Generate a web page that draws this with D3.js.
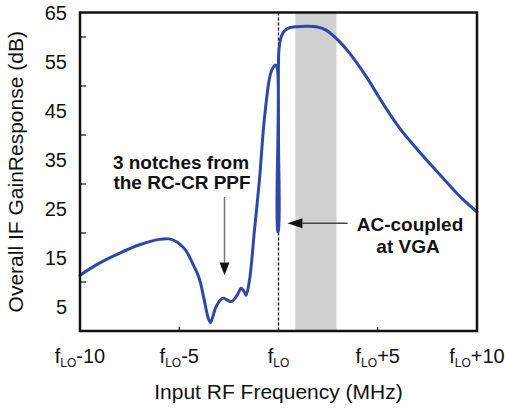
<!DOCTYPE html>
<html>
<head>
<meta charset="utf-8">
<script src="https://cdn.jsdelivr.net/npm/d3@7"></script>
<style>
html,body{margin:0;padding:0;background:#fff;}
svg{display:block;font-family:"Liberation Sans",Arial,Helvetica,sans-serif;}
</style>
</head>
<body>
<svg id="chart" width="505" height="411"></svg>
<script>
// ---- data ----
const freqOffset = [-10, -9, -8, -7, -6, -5.5, -5.1, -4.7, -4.35, -4.0, -3.75, -3.55, -3.43, -3.3, -3.14, -2.8, -2.38, -2.1, -1.88, -1.7, -1.63, -1.46, -1.21, -0.96, -0.7, -0.37, -0.15, -0.05, -0.04, -0.01, 0.0, 0.02, 0.1, 0.22, 0.45, 0.89, 1.4, 1.9, 2.4, 2.99, 3.58, 4.42, 5.25, 6.1, 6.94, 7.77, 8.6, 9.28, 10];
const gainDb     = [11.4, 13.9, 15.9, 17.6, 18.7, 18.8, 18.1, 16.6, 14.0, 10.8, 6.5, 2.8, 1.7, 3.0, 5.0, 6.7, 6.0, 7.2, 8.7, 7.8, 7.3, 10.4, 20.6, 30.8, 43.7, 52.9, 54.3, 53.3, 20.3, 20.3, 40.0, 57.3, 59.5, 60.8, 61.7, 62.1, 62.2, 62.1, 61.4, 59.4, 56.7, 51.9, 46.5, 41.4, 37.3, 33.5, 29.8, 26.9, 24.3];
const passBand = [0.85, 2.92];
const xTickValues = [-10, -5, 0, 5, 10];
const xTickSuffix = ["-10", "-5", "", "+5", "+10"];
const yLabelValues = [5, 15, 25, 35, 45, 55, 65];
const yTickValues = [10, 20, 30, 40, 50, 60];

// ---- layout ----
const svg = d3.select("#chart");
const x = d3.scaleLinear().domain([-10, 10]).range([80, 477]);
const y = d3.scaleLinear().domain([0, 65]).range([331, 12.5]);

const blue = "#2f48a6";

// gray passband
svg.append("rect")
  .attr("x", x(passBand[0])).attr("y", y(65))
  .attr("width", x(passBand[1]) - x(passBand[0]))
  .attr("height", y(0) - y(65))
  .attr("fill", "#cfd0d0");

// dashed fLO line
svg.append("line")
  .attr("x1", x(0)).attr("x2", x(0))
  .attr("y1", y(65)).attr("y2", y(0))
  .attr("stroke", "#111").attr("stroke-width", 1.3)
  .attr("stroke-dasharray", "3,2");

// curve
const pts = freqOffset.map((f, i) => [f, gainDb[i]]);
const line = d3.line()
  .x(d => x(d[0])).y(d => y(d[1]))
  .curve(d3.curveCatmullRom.alpha(0.5));
svg.append("path")
  .attr("d", line(pts))
  .attr("fill", "none")
  .attr("stroke", blue)
  .attr("stroke-width", 3)
  .attr("stroke-linejoin", "round")
  .attr("stroke-linecap", "round");

// left inward ticks
svg.append("g").selectAll("line").data(yTickValues).join("line")
  .attr("x1", x(-10)).attr("x2", x(-10) + 6)
  .attr("y1", d => y(d)).attr("y2", d => y(d))
  .attr("stroke", "#111").attr("stroke-width", 1.2);

// bottom inward ticks
svg.append("g").selectAll("line").data([-5, 5]).join("line")
  .attr("x1", d => x(d)).attr("x2", d => x(d))
  .attr("y1", y(0)).attr("y2", y(0) - 4)
  .attr("stroke", "#111").attr("stroke-width", 1.2);

// frame
svg.append("rect")
  .attr("x", x(-10)).attr("y", y(65))
  .attr("width", x(10) - x(-10)).attr("height", y(0) - y(65))
  .attr("fill", "none").attr("stroke", "#111").attr("stroke-width", 2.5);

// y tick labels
svg.append("g").selectAll("text").data(yLabelValues).join("text")
  .attr("x", 67).attr("y", d => y(d))
  .attr("dy", "0.36em")
  .attr("text-anchor", "end")
  .attr("font-size", 20)
  .attr("fill", "#111")
  .text(d => d);

// x tick labels  f_LO±n
const xl = svg.append("g").selectAll("text").data(xTickValues).join("text")
  .attr("x", d => x(d)).attr("y", 363)
  .attr("text-anchor", "middle")
  .attr("font-size", 20)
  .attr("fill", "#111");
xl.append("tspan").text("f");
xl.append("tspan").attr("font-size", 12).attr("dy", 4).text("LO");
xl.append("tspan").attr("dy", -4).text((d, i) => xTickSuffix[i]);

// axis titles
svg.append("text")
  .attr("x", (x(-10) + x(10)) / 2).attr("y", 399)
  .attr("text-anchor", "middle").attr("font-size", 21).attr("fill", "#111")
  .text("Input RF Frequency (MHz)");
svg.append("text")
  .attr("transform", `translate(23,${(y(0) + y(65)) / 2}) rotate(-90)`)
  .attr("text-anchor", "middle").attr("font-size", 21).attr("fill", "#111")
  .text("Overall IF GainResponse (dB)");

// annotation: notches
const ann1 = svg.append("text")
  .attr("text-anchor", "middle").attr("font-size", 19).attr("font-weight", "bold").attr("fill", "#111");
ann1.append("tspan").attr("x", 181).attr("y", 169).text("3 notches from");
ann1.append("tspan").attr("x", 182).attr("y", 189).text("the RC-CR PPF");

svg.append("line")
  .attr("x1", x(-2.72)).attr("x2", x(-2.72))
  .attr("y1", 197).attr("y2", y(14))
  .attr("stroke", "#777").attr("stroke-width", 1.5);
svg.append("path")
  .attr("d", `M${x(-2.72) - 5},${y(14)} L${x(-2.72) + 5},${y(14)} L${x(-2.72)},${y(11.4)} Z`)
  .attr("fill", "#111");

// annotation: AC-coupled
const ann2 = svg.append("text")
  .attr("text-anchor", "middle").attr("font-size", 19).attr("font-weight", "bold").attr("fill", "#111");
ann2.append("tspan").attr("x", 410).attr("y", 231).text("AC-coupled");
ann2.append("tspan").attr("x", 408).attr("y", 253).text("at VGA");

svg.append("line")
  .attr("x1", x(3.48)).attr("x2", x(1.2))
  .attr("y1", y(22)).attr("y2", y(22))
  .attr("stroke", "#444").attr("stroke-width", 1.5);
svg.append("path")
  .attr("d", `M${x(0.45)},${y(22)} L${x(0.45) + 15},${y(22) - 5} L${x(0.45) + 15},${y(22) + 5} Z`)
  .attr("fill", "#111");
</script>
</body>
</html>
